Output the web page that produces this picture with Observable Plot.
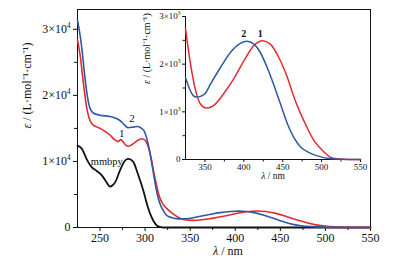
<!DOCTYPE html>
<html><head><meta charset="utf-8">
<script src="https://cdn.jsdelivr.net/npm/d3@7"></script>
<script src="https://cdn.jsdelivr.net/npm/@observablehq/plot@0.6"></script>
<style>
body{margin:0;background:#fff;}
#wrap{position:relative;width:393px;height:262px;background:#fff;}
#wrap svg{position:absolute;left:0;top:0;}
</style></head><body><div id="wrap"></div>
<script>
// ---- data (wavelength nm, epsilon L/mol/cm) ----
const mmbpyX = [225,230,235,241,246,252,257,261,264,267,272,277,281,284,287,292,298,303,309,314,320,330,550];
const mmbpyY = [12400,11900,10400,9100,8600,7900,6900,6200,6400,6900,8600,10000,10400,10300,9900,8100,5600,3100,1060,200,0,0,0];

const c1X = [225,228,231,235,238,241,245,250,255,261,266,270,273,276,279,282,286,290,295,298,301,304,307,310,313,316,320,325,331,338,344,352,361,374,387,400,413,424,434,445,456,466,477,490,503,511,520,535,550];
const c1Y = [28400,26000,22500,18300,16500,15700,15300,15000,14600,14000,13300,13000,13300,12900,12400,12300,12600,13000,13400,13400,13000,12000,10300,8100,6200,4600,3500,2750,2050,1450,1170,1080,1130,1380,1690,2070,2390,2490,2420,2140,1720,1240,820,400,160,50,15,0,0];

const c2X = [225,228,230,233,236,239,243,250,261,268,272,276,281,287,292,296,299,302,305,308,310,313,316,320,325,330,335,339,345,350,357,370,383,395,404,413,421,430,438,447,456,464,473,486,498,510,525,550];
const c2Y = [31400,29000,26900,23000,19800,18000,17300,17000,16800,16500,16200,15700,15100,15200,15300,15000,14600,13400,11600,9200,7600,5300,3800,2600,1720,1490,1340,1310,1330,1380,1580,1930,2250,2430,2480,2420,2250,1930,1590,1170,750,470,260,130,60,20,5,0];

const xMajor = [250,300,350,400,450,500,550];
const xMinor = [275,325,375,425,475,525];
const yMajor = [0,10000,20000,30000];
const yMajorLabels = ["0","1×10⁴","2×10⁴","3×10⁴"];
const yMinor = [5000,15000,25000];

const insetXMajor = [350,400,450,500,550];
const insetXMinor = [375,425,475,525];
const insetYMajor = [0,1000,2000,3000];
const insetYLabels = ["0","1×10³","2×10³","3×10³"];
const insetYMinor = [500,1500,2500];

const mainLabels = [
  {x:274, y:14200, text:"1", bold:true},
  {x:285.5, y:16500, text:"2", bold:true},
  {x:257.5, y:9900, text:"mmbpy", bold:false}
];
const insetLabels = [
  {x:400, y:2640, text:"2"},
  {x:421, y:2640, text:"1"}
];
const xTitle = "λ / nm";
const yTitle = "ε / (L·mol⁻¹·cm⁻¹)";

const RED = "#e32b2f", BLUE = "#2f58a6", BLACK = "#111";
const FONT = "'Liberation Serif','Times New Roman',serif";

const toRows = (xs, ys) => xs.map((x,i)=>({x, y:ys[i]}));
const mmbpy = toRows(mmbpyX, mmbpyY);
const c1 = toRows(c1X, c1Y);
const c2 = toRows(c2X, c2Y);

const main = Plot.plot({
  width:393, height:262,
  marginLeft:77, marginRight:23, marginTop:9, marginBottom:35,
  style:{fontFamily:FONT, fontSize:"12px", background:"transparent", color:BLACK},
  x:{domain:[225,550]},
  y:{domain:[0,33000]},
  marks:[
    Plot.frame({stroke:BLACK, strokeWidth:1}),
    Plot.axisX({ticks:xMajor, tickSize:4, tickPadding:2, label:null, fontSize:12}),
    Plot.axisX({ticks:xMinor, tickSize:3, tickFormat:()=>"", label:null}),
    Plot.axisY({ticks:yMajor, tickSize:4, tickPadding:3, label:null, fontSize:12,
      tickFormat:d=>yMajorLabels[yMajor.indexOf(d)]}),
    Plot.axisY({ticks:yMinor, tickSize:3, tickFormat:()=>"", label:null}),
    Plot.line(mmbpy, {x:"x", y:"y", stroke:BLACK, strokeWidth:1.8, curve:"monotone-x"}),
    Plot.line(c1, {x:"x", y:"y", stroke:RED, strokeWidth:1.6, curve:"monotone-x"}),
    Plot.line(c2, {x:"x", y:"y", stroke:BLUE, strokeWidth:1.6, curve:"monotone-x"}),
    Plot.text(mainLabels, {x:"x", y:"y", text:"text", fontWeight:d=>d.bold?"bold":"normal",
      fontSize:d=>d.bold?11:10.5, fill:BLACK}),
    Plot.text([xTitle], {frameAnchor:"bottom", text:d=>d, dx:4, dy:27, fontSize:12, fill:BLACK}),
    Plot.text([yTitle], {frameAnchor:"left", text:d=>d, rotate:-90, dx:-50, dy:10, fontSize:12, fill:BLACK})
  ]
});

const inset = Plot.plot({
  width:393, height:262,
  marginLeft:185, marginRight:33, marginTop:16, marginBottom:103,
  style:{fontFamily:FONT, fontSize:"9px", background:"transparent", color:BLACK, overflow:"visible"},
  x:{domain:[325,550]},
  y:{domain:[0,3000]},
  marks:[
    Plot.ruleX([325], {stroke:BLACK, strokeWidth:1}),
    Plot.ruleY([0], {stroke:BLACK, strokeWidth:1}),
    Plot.axisX({ticks:insetXMajor, tickSize:3, tickPadding:1, label:null, fontSize:9}),
    Plot.axisX({ticks:insetXMinor, tickSize:2.5, tickFormat:()=>"", label:null}),
    Plot.axisY({ticks:insetYMajor, tickSize:3, tickPadding:2, label:null, fontSize:9,
      tickFormat:d=>insetYLabels[insetYMajor.indexOf(d)]}),
    Plot.axisY({ticks:insetYMinor, tickSize:2.5, tickFormat:()=>"", label:null}),
    Plot.line(c1.filter(d=>d.x>=325), {x:"x", y:"y", stroke:RED, strokeWidth:1.5, curve:"monotone-x"}),
    Plot.line(c2.filter(d=>d.x>=325), {x:"x", y:"y", stroke:BLUE, strokeWidth:1.5, curve:"monotone-x"}),
    Plot.text(insetLabels, {x:"x", y:"y", text:"text", fontWeight:"bold", fontSize:10, fill:BLACK}),
    Plot.text([xTitle], {frameAnchor:"bottom", text:d=>d, dy:19.5, fontSize:9.5, fill:BLACK}),
    Plot.text([yTitle], {frameAnchor:"left", text:d=>d, rotate:-90, dx:-39, dy:-4, fontSize:10, fill:BLACK})
  ]
});

const SVGNS = "http://www.w3.org/2000/svg";
const SUP = {"⁰":"0","¹":"1","²":"2","³":"3","⁴":"4","⁵":"5","⁶":"6","⁷":"7","⁸":"8","⁹":"9"};
// italic Greek in titles; true superscript exponent in tick labels
function typeset(svg){
  svg.querySelectorAll("text").forEach(t=>{
    if (t.children.length) return;
    const s = t.textContent;
    if (s.startsWith("ε") || s.startsWith("λ")){
      t.textContent = "";
      const a = document.createElementNS(SVGNS,"tspan");
      a.setAttribute("font-style","italic");
      a.textContent = s[0];
      const b = document.createElementNS(SVGNS,"tspan");
      b.textContent = s.slice(1);
      t.appendChild(a); t.appendChild(b);
    } else {
      const m = s.match(/^(.*×10)([⁰¹²³⁴⁵⁶⁷⁸⁹]+)$/);
      if (m){
        t.textContent = m[1];
        const e = document.createElementNS(SVGNS,"tspan");
        e.setAttribute("font-size","0.6em");
        e.setAttribute("dy","-0.75em");
        e.textContent = [...m[2]].map(c=>SUP[c]).join("");
        t.appendChild(e);
      }
    }
  });
}
typeset(main); typeset(inset);

const wrap = document.getElementById("wrap");
wrap.appendChild(main);
wrap.appendChild(inset);
</script>
</body></html>
